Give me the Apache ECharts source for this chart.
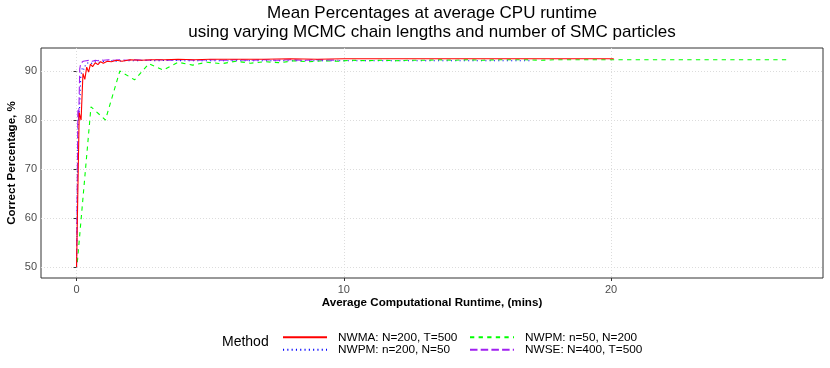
<!DOCTYPE html>
<html>
<head>
<meta charset="utf-8">
<script src="https://cdn.jsdelivr.net/npm/echarts@6/dist/echarts.min.js"></script>
<style>
html,body{margin:0;padding:0;background:#fff;}
#chart{width:830px;height:368px;}
</style>
</head>
<body>
<div id="chart"></div>
<script>
// ---- data ----
const seriesNames = ["NWMA: N=200, T=500", "NWPM: n=200, N=50", "NWPM: n=50, N=200", "NWSE: N=400, T=500"];

const nwmaX = [0, 0.1, 0.17, 0.24, 0.31, 0.38, 0.45, 0.52, 0.6, 0.7, 0.8, 0.9, 1.0, 1.15, 1.3, 1.5, 1.7, 2.0, 2.4, 2.8, 3.3, 3.8, 4.4, 5, 6, 7, 8, 9, 10, 11, 12, 13, 14, 15, 16, 17, 18, 19, 20.1];
const nwmaY = [50, 81.5, 80, 89.5, 88.3, 90.8, 89.8, 91.4, 90.9, 91.7, 91.3, 91.9, 91.6, 92.0, 91.9, 92.2, 92.0, 92.3, 92.2, 92.3, 92.3, 92.4, 92.3, 92.4, 92.4, 92.4, 92.5, 92.4, 92.5, 92.5, 92.5, 92.5, 92.5, 92.5, 92.5, 92.5, 92.5, 92.5, 92.5];

const nwpm200X = [0, 0.06, 0.11, 0.16, 0.22, 0.28, 0.35, 0.42, 0.5, 0.6, 0.7, 0.8, 0.95, 1.1, 1.3, 1.5, 1.8, 2.2, 2.6, 3.0, 3.5, 4, 5, 6, 7, 8, 9, 10, 11, 12, 13, 14, 15, 16, 17];
const nwpm200Y = [50, 80.5, 82, 89, 90.8, 90.3, 91.5, 91.1, 91.8, 91.5, 91.9, 91.7, 92.0, 91.9, 92.1, 92.0, 92.1, 92.1, 92.2, 92.1, 92.2, 92.1, 92.1, 92.1, 92.1, 92.1, 92.1, 92.1, 92.1, 92.1, 92.1, 92.1, 92.1, 92.1, 92.1];

const nwpm50X = [0.03, 0.54, 1.08, 1.62, 2.17, 2.71, 3.25, 3.8, 4.34, 4.88, 5.43, 5.97, 6.51, 7.06, 7.6, 8.14, 8.68, 9.23, 9.77, 10.31, 10.86, 11.4, 11.94, 12.48, 13.03, 13.57, 14.11, 14.65, 15.2, 15.74, 16.28, 16.82, 17.37, 17.91, 18.45, 18.99, 19.54, 20.08, 20.62, 21.16, 21.71, 22.25, 22.79, 23.33, 23.88, 24.42, 24.96, 25.5, 26.05, 26.6];
const nwpm50Y = [51, 82.7, 80.0, 90.0, 88.2, 91.5, 90.2, 91.8, 91.2, 91.8, 91.5, 92.0, 91.6, 91.9, 91.7, 92.1, 91.9, 92.1, 92.0, 92.2, 92.1, 92.2, 92.1, 92.2, 92.2, 92.3, 92.2, 92.3, 92.2, 92.3, 92.3, 92.3, 92.2, 92.3, 92.3, 92.3, 92.3, 92.3, 92.3, 92.3, 92.3, 92.3, 92.3, 92.3, 92.3, 92.3, 92.3, 92.3, 92.3, 92.3];

const nwseX = [0, 0.05, 0.08, 0.12, 0.16, 0.2, 0.25, 0.3, 0.36, 0.42, 0.5, 0.6, 0.7, 0.8, 0.9, 1.0, 1.2, 1.4, 1.6, 1.9, 2.2, 2.6, 3.0, 3.5, 4, 4.5, 5, 5.5, 6, 6.5, 7, 7.5, 8, 8.5, 9, 9.8];
const nwseY = [50, 82, 80, 90.5, 91.6, 91.2, 92.0, 91.7, 92.1, 91.8, 92.2, 92.0, 92.2, 92.1, 92.3, 92.2, 92.3, 92.2, 92.3, 92.2, 92.3, 92.2, 92.3, 92.2, 92.3, 92.2, 92.3, 92.2, 92.3, 92.2, 92.3, 92.2, 92.3, 92.2, 92.3, 92.2];

const xTickLabels = [0, 10, 20];
const yTickLabels = [50, 60, 70, 80, 90];

// ---- chart ----
const FONT = '"Liberation Sans", Arial, sans-serif';
const colors = ['#FF0000', '#0000FF', '#00FF00', '#A020F0'];
const dashes = ['solid', [1.1, 3.2], [4.3, 4.3], [7.5, 3.2]];
const xs = [nwmaX, nwpm200X, nwpm50X, nwseX];
const ys = [nwmaY, nwpm200Y, nwpm50Y, nwseY];

function pairs(x, y) { return x.map((v, i) => [v, y[i]]); }

const series = seriesNames.map((name, i) => ({
  name: name,
  type: 'line',
  data: pairs(xs[i], ys[i]),
  showSymbol: false,
  symbol: 'none',
  animation: false,
  lineStyle: { color: colors[i], width: 1.1, type: dashes[i], cap: 'butt' },
  itemStyle: { color: colors[i] },
  z: i === 0 ? 3 : 2
}));

const chart = echarts.init(document.getElementById('chart'), null, { renderer: 'canvas' });

const legendCommon = {
  orient: 'vertical',
  itemWidth: 44,
  itemHeight: 6,
  itemGap: 0,
  padding: 0,
  itemStyle: { color: 'transparent', borderWidth: 0, opacity: 0 },
  textStyle: { fontFamily: FONT, fontSize: 11.8, color: '#000', lineHeight: 12.5, padding: [0, 0, 0, 6] }
};

chart.setOption({
  animation: false,
  textStyle: { fontFamily: FONT },
  title: [
    {
      text: 'Mean Percentages at average CPU runtime\nusing varying MCMC chain lengths and number of SMC particles',
      left: 432, top: 4, textAlign: 'center', padding: 0,
      textStyle: { fontFamily: FONT, fontSize: 17, fontWeight: 'normal', color: '#000', lineHeight: 19 }
    },
    {
      text: 'Method',
      left: 222, top: 335, padding: 0,
      textStyle: { fontFamily: FONT, fontSize: 14, fontWeight: 'normal', color: '#000' }
    }
  ],
  legend: [
    Object.assign({}, legendCommon, { left: 282, top: 331, data: [seriesNames[0], seriesNames[1]] }),
    Object.assign({}, legendCommon, { left: 469, top: 331, data: [seriesNames[2], seriesNames[3]] })
  ],
  grid: {
    left: 41, right: 7, top: 48, bottom: 90,
    outerBoundsMode: 'none', containLabel: false,
    show: true, borderColor: '#333333', borderWidth: 1, backgroundColor: 'transparent'
  },
  xAxis: {
    type: 'value',
    min: -1.33, max: 27.93, interval: 5,
    name: 'Average Computational Runtime, (mins)',
    nameLocation: 'middle', nameGap: 19, nameMoveOverlap: false,
    nameTextStyle: { fontFamily: FONT, fontSize: 11.6, fontWeight: 'bold', color: '#000' },
    axisLine: { show: false },
    axisTick: { show: true, length: 3, lineStyle: { color: '#333' }, customValues: xTickLabels },
    axisLabel: {
      customValues: xTickLabels,
      fontFamily: FONT, fontSize: 11, color: '#4d4d4d', margin: 6
    },
    splitLine: { show: true, lineStyle: { color: '#dcdcdc', type: [1, 2], width: 1 } }
  },
  yAxis: {
    type: 'value',
    min: 47.75, max: 94.7, interval: 5,
    name: 'Correct Percentage, %',
    nameLocation: 'middle', nameGap: 23, nameMoveOverlap: false,
    nameTextStyle: { fontFamily: FONT, fontSize: 11.6, fontWeight: 'bold', color: '#000' },
    axisLine: { show: false },
    axisTick: { show: true, length: 3, lineStyle: { color: '#333' }, customValues: yTickLabels },
    axisLabel: {
      customValues: yTickLabels,
      fontFamily: FONT, fontSize: 11, color: '#4d4d4d', margin: 4
    },
    splitLine: { show: true, lineStyle: { color: '#dcdcdc', type: [1, 2], width: 1 } }
  },
  series: series
});
</script>
</body>
</html>
